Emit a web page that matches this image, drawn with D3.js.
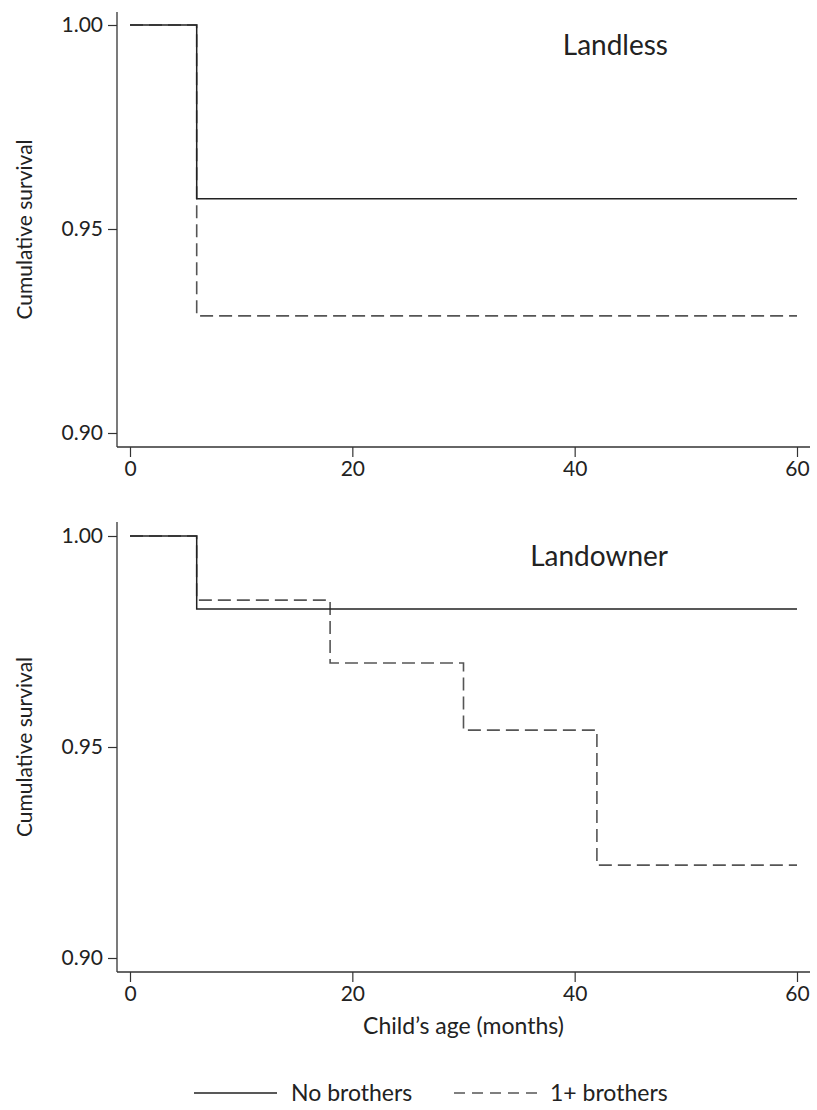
<!DOCTYPE html>
<html>
<head>
<meta charset="utf-8">
<script src="https://cdn.jsdelivr.net/npm/d3@7"></script>
<style>
  body { margin: 0; background: #fff; }
  svg text { font-family: Lato, "Open Sans", sans-serif; fill: #222; }
</style>
</head>
<body>
<div id="chart"></div>
<script>
// Kaplan-Meier style survival curves, two panels

const xTicks = [0, 20, 40, 60];
const yTicks = [0.90, 0.95, 1.00];
const seriesNames = ['No brothers', '1+ brothers'];
const panelTitles = ['Landless', 'Landowner'];

// Landless
const landlessNoTimes = [0, 6, 60];
const landlessNoSurv = [1.000, 0.9574, 0.9574];
const landlessOneTimes = [0, 6, 60];
const landlessOneSurv = [1.000, 0.9287, 0.9287];

// Landowner
const landownerNoTimes = [0, 6, 60];
const landownerNoSurv = [1.000, 0.9827, 0.9827];
const landownerOneTimes = [0, 6, 18, 30, 42, 60];
const landownerOneSurv = [1.000, 0.9848, 0.9699, 0.9540, 0.9220, 0.9220];

const W = 817, H = 1110;
const axisX = 117;       // y axis position
const x0 = 130, x1 = 797;

const panels = [
  { title: panelTitles[0], top: 12, yTop: 25, yBot: 433, axisY: 447,
    series: [
      { times: landlessOneTimes, surv: landlessOneSurv, dashed: true },
      { times: landlessNoTimes, surv: landlessNoSurv, dashed: false }
    ], xlabel: false },
  { title: panelTitles[1], top: 522, yTop: 536, yBot: 958, axisY: 972,
    series: [
      { times: landownerOneTimes, surv: landownerOneSurv, dashed: true },
      { times: landownerNoTimes, surv: landownerNoSurv, dashed: false }
    ], xlabel: true }
];

const svg = d3.select('#chart').append('svg')
  .attr('width', W)
  .attr('height', H);

const x = d3.scaleLinear().domain([0, 60]).range([x0, x1]);

panels.forEach(p => {
  const y = d3.scaleLinear().domain([0.90, 1.00]).range([p.yBot, p.yTop]);
  const g = svg.append('g');

  // axis lines
  g.append('line')
    .attr('x1', axisX).attr('x2', axisX)
    .attr('y1', p.top).attr('y2', p.axisY)
    .attr('stroke', '#333').attr('stroke-width', 1.3);
  g.append('line')
    .attr('x1', axisX).attr('x2', 810)
    .attr('y1', p.axisY).attr('y2', p.axisY)
    .attr('stroke', '#333').attr('stroke-width', 1.3);

  // y axis
  const ya = g.append('g')
    .attr('transform', `translate(${axisX},0)`)
    .call(d3.axisLeft(y).tickValues(yTicks).tickFormat(d3.format('.2f')).tickSize(9).tickPadding(5));
  ya.select('.domain').remove();
  ya.selectAll('line').attr('stroke', '#333').attr('stroke-width', 1.2);
  ya.selectAll('text').attr('font-size', 21).attr('font-family', 'Lato, sans-serif').attr('fill', '#222');

  // x axis
  const xa = g.append('g')
    .attr('transform', `translate(0,${p.axisY})`)
    .call(d3.axisBottom(x).tickValues(xTicks).tickSize(10).tickPadding(4));
  xa.select('.domain').remove();
  xa.selectAll('line').attr('stroke', '#333').attr('stroke-width', 1.2);
  xa.selectAll('text').attr('font-size', 21).attr('font-family', 'Lato, sans-serif').attr('fill', '#222');

  // y label
  g.append('text')
    .attr('transform', `translate(32,${(p.top + p.axisY) / 2}) rotate(-90)`)
    .attr('text-anchor', 'middle')
    .attr('font-size', 21)
    .text('Cumulative survival');

  // panel title
  g.append('text')
    .attr('x', 668)
    .attr('y', p.yTop + 30)
    .attr('text-anchor', 'end')
    .attr('font-size', 28)
    .text(p.title);

  // curves
  const line = d3.line()
    .x(d => x(d[0]))
    .y(d => y(d[1]))
    .curve(d3.curveStepAfter);

  p.series.forEach(s => {
    const pts = s.times.map((t, i) => [t, s.surv[i]]);
    g.append('path')
      .attr('d', line(pts))
      .attr('fill', 'none')
      .attr('stroke', s.dashed ? '#555' : '#222')
      .attr('stroke-width', s.dashed ? 1.6 : 1.5)
      .attr('stroke-dasharray', s.dashed ? '13,6' : null);
  });

  if (p.xlabel) {
    g.append('text')
      .attr('x', (x0 + x1) / 2)
      .attr('y', p.axisY + 62)
      .attr('text-anchor', 'middle')
      .attr('font-size', 23)
      .text('Child\u2019s age (months)');
  }
});

// legend
const legendItems = [
  { name: seriesNames[0], dashed: false, lx: 194, tx: 291 },
  { name: seriesNames[1], dashed: true, lx: 454, tx: 550 }
];
const lg = svg.append('g');
legendItems.forEach(d => {
  lg.append('line')
    .attr('x1', d.lx).attr('x2', d.lx + 83)
    .attr('y1', 1093).attr('y2', 1093)
    .attr('stroke', d.dashed ? '#555' : '#222')
    .attr('stroke-width', 1.5)
    .attr('stroke-dasharray', d.dashed ? '11,7' : null);
  lg.append('text')
    .attr('x', d.tx)
    .attr('y', 1101)
    .attr('font-size', 23)
    .text(d.name);
});
</script>
</body>
</html>
